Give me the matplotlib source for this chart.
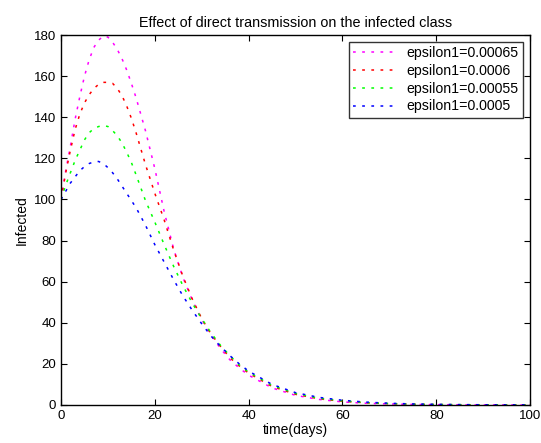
import matplotlib

matplotlib.use("Agg")

import matplotlib.pyplot as plt

plt.rcParams["font.family"] = ["Liberation Sans", "DejaVu Sans"]

days = [0, 1, 2, 3, 4, 5, 6, 7, 8, 9, 10, 11, 12, 13, 14, 15, 16,
        18, 20, 22, 24, 26, 28, 30, 32, 34, 36, 38, 40,
        45, 50, 55, 60, 65, 70, 75, 80, 85, 90, 95, 100]

infected_065 = [100, 114, 126, 139, 150, 160, 168, 174, 177.5, 179.5, 179, 176.5, 173, 168.5, 163, 156.5, 149.5,
                133.5, 115, 94, 76, 62, 51, 41.5, 34, 27.5, 22, 18, 14.5,
                8.3, 4.7, 2.7, 1.5, 0.85, 0.5, 0.28, 0.16, 0.09, 0.05, 0.03, 0.02]
infected_06 = [100, 113, 124, 134, 141.5, 147, 151, 154, 156, 157, 157, 156.5, 154, 150.5, 145.5, 139.5, 132.5,
               117, 103, 90, 75.5, 62.5, 51.5, 42, 34.5, 28.5, 23, 19, 15.5,
               9, 5.2, 3, 1.8, 1.05, 0.6, 0.35, 0.2, 0.12, 0.07, 0.04, 0.02]
infected_055 = [100, 107, 113, 119, 124, 129, 132.5, 134.5, 135.5, 136, 135.5, 133.5, 131, 127.5, 123, 118, 112,
                99.5, 89, 78, 67.5, 58, 49.5, 42, 35, 29, 24, 19.5, 16,
                9.5, 5.6, 3.3, 2, 1.2, 0.7, 0.4, 0.25, 0.15, 0.09, 0.05, 0.03]
infected_05 = [100, 104, 108, 111, 114, 116, 117.5, 118.3, 118.5, 117.5, 115.5, 113, 110, 106.5, 103, 99.5, 96,
               87.5, 78, 69.5, 61, 53, 46, 39.5, 33.5, 28.5, 24, 20, 16.5,
               10, 6, 3.7, 2.3, 1.4, 0.85, 0.5, 0.3, 0.18, 0.11, 0.07, 0.04]

labels = ["epsilon1=0.00065", "epsilon1=0.0006", "epsilon1=0.00055", "epsilon1=0.0005"]
colors = ["#ff00ff", "#ff0000", "#00ff00", "#0000ff"]
series = [infected_065, infected_06, infected_055, infected_05]

fig = plt.figure(figsize=(5.41, 4.43), dpi=100)
ax = fig.add_axes([0.1128, 0.0858, 0.867, 0.835])

for values, color, label in zip(series, colors, labels):
    ax.plot(days, values, color=color, linestyle=(0, (1.8, 4.2)), linewidth=1.1, label=label)

ax.set_xlim(0, 100)
ax.set_ylim(0, 180)
ax.set_xticks(range(0, 101, 20))
ax.set_yticks(range(0, 181, 20))
ax.tick_params(direction="in", top=True, right=True, length=4.5, labelsize=9.5)
for spine in ax.spines.values():
    spine.set_linewidth(1.0)

ax.set_title("Effect of direct transmission on the infected class", fontsize=10.4, pad=6)
ax.set_xlabel("time(days)", fontsize=10, labelpad=1)
ax.set_ylabel("Infected", fontsize=10, labelpad=4)

leg = ax.legend(loc="upper right", fontsize=10.2, frameon=True, fancybox=False,
                edgecolor="black", handlelength=3.1, handletextpad=0.7,
                borderaxespad=0.5, labelspacing=0.26, borderpad=0.3)
leg.get_frame().set_linewidth(1.0)

fig.savefig("out.png", dpi=100)
